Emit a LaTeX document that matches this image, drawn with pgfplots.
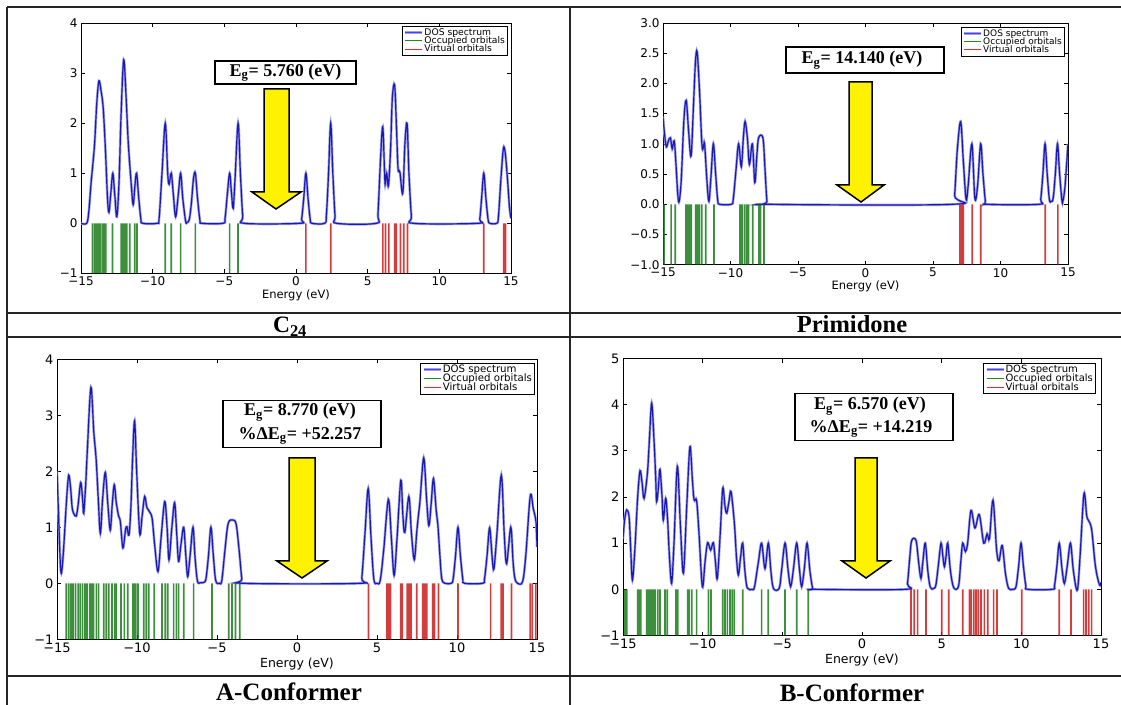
\documentclass[border=0pt]{standalone}
\usepackage{fontspec}
\setmainfont{Liberation Serif}
\newfontfamily\dejavu{DejaVu Sans}
\usepackage{pgfplots}
\pgfplotsset{compat=1.18}
\definecolor{doscol}{rgb}{0.1,0.1,0.72}
\definecolor{occcol}{rgb}{0.05,0.45,0.05}
\definecolor{virtcol}{rgb}{0.78,0.05,0.05}
\definecolor{legblue}{rgb}{0.25,0.25,1}
\definecolor{leggreen}{rgb}{0.1,0.55,0.1}
\definecolor{legred}{rgb}{0.95,0.15,0.15}
\newcommand{\fs}[1]{\fontsize{#1}{#1}\selectfont}

\pgfplotsset{
  dos/.style={
    scale only axis, anchor=south west,
    xmin=-15, xmax=15,
    xtick={-15,-10,-5,0,5,10,15},
    xticklabels={−15,−10,−5,0,5,10,15},
    tick align=inside, major tick length=4pt,
    axis line style={line width=0.9pt},
    every tick/.style={black, line width=0.7pt},
    xlabel={Energy (eV)},
    legend cell align=left,
    legend entries={DOS spectrum, Occupied orbitals, Virtual orbitals},
    legend style={at={(1,1)}, anchor=north east, draw=black, line width=0.8pt,
      fill=white, inner xsep=2pt, inner ysep=1.2pt, row sep=-1.5pt,
      nodes={inner sep=0.7pt}},
  },
  curve/.style={draw=doscol, line width=1.2pt, smooth, tension=0.55, mark=none,
    preaction={draw, doscol!40!white, line width=2.6pt},
    legend image code/.code={\draw[legblue, line width=1.1pt] (0pt,0pt) -- (17pt,0pt);}},
  occ/.style={ybar, bar shift=0pt, bar width=1.7pt, draw=none, fill=occcol, fill opacity=0.8,
    legend image code/.code={\draw[leggreen, line width=1.1pt] (0pt,0pt) -- (17pt,0pt);}},
  virt/.style={ybar, bar shift=0pt, bar width=1.7pt, draw=none, fill=virtcol, fill opacity=0.8,
    legend image code/.code={\draw[legred, line width=1.1pt] (0pt,0pt) -- (17pt,0pt);}},
}

\begin{document}
\begin{tikzpicture}[x=1pt,y=1pt]
\useasboundingbox (0,0) rectangle (1121,704);
\clip (0,0) rectangle (1121,704);

% table frame
\begin{scope}[line width=1.4pt, black!85]
\draw (7,697) -- (1121,697);
\draw (7,697) -- (7,-5);
\draw (570,697) -- (570,-5);
\draw (7,391) -- (1121,391);
\draw (7,367) -- (1121,367);
\draw (7,28) -- (1121,28);
\end{scope}

% captions
\node[font=\bfseries\fs{23.5}, anchor=base] at (290,371) {C\textsubscript{24}};
\node[font=\bfseries\fs{24.5}, anchor=base] at (852,371) {Primidone};
\node[font=\bfseries\fs{25}, anchor=base] at (289,4) {A-Conformer};
\node[font=\bfseries\fs{25}, anchor=base] at (852,3) {B-Conformer};

% ---------------- C24 ----------------
\begin{axis}[dos, at={(81pt,430.7pt)}, width=430pt, height=250pt,
  ymin=-1, ymax=4, ytick={-1,0,1,2,3,4}, yticklabels={−1,0,1,2,3,4},
  tick label style={font=\dejavu\fs{12}},
  xlabel style={font=\dejavu\fs{11.5}, at={(axis description cs:0.5,0)}, anchor=center, yshift=-22pt},
  legend style={xshift=-3pt, yshift=-2.7pt, font=\dejavu\fs{9.2}}]
\addplot[curve] coordinates {
(-15,0) (-14.6,0) (-14.45,0.25) (-14.3,0.8) (-14.2,1.1) (-14.05,1.6) (-13.9,2.4) (-13.75,2.85)
(-13.6,2.65) (-13.45,2.3) (-13.3,1.5) (-13.15,0.5) (-13.05,0.22) (-12.92,0.6) (-12.78,1.0)
(-12.64,0.55) (-12.5,0.13) (-12.35,0.8) (-12.2,2.2) (-12.02,3.27) (-11.85,2.5) (-11.7,1.6)
(-11.5,0.8) (-11.36,0.37) (-11.24,0.75) (-11.12,1.0) (-10.97,0.5) (-10.82,0.08) (-10.7,0)
(-9.7,0) (-9.55,0.1) (-9.35,1.0) (-9.12,2.0) (-8.95,1.0) (-8.85,0.78) (-8.7,1.0) (-8.55,0.55)
(-8.4,0.13) (-8.22,0.55) (-8.05,1.0) (-7.9,0.5) (-7.7,0.04) (-7.6,0.02) (-7.45,0.07) (-7.3,0.4)
(-7.15,0.9) (-7.02,1.0) (-6.87,0.5) (-6.7,0.06) (-6.55,0)
(-5.1,0) (-4.95,0.1) (-4.8,0.55) (-4.63,1.0) (-4.5,0.6) (-4.38,0.3) (-4.25,0.9) (-4.04,2.0)
(-3.88,1.0) (-3.72,0.15) (-3.6,0)
(0.27,0) (0.39,0.08) (0.54,0.5) (0.69,1) (0.84,0.5) (0.99,0.08) (1.11,0)
(2.0,0) (2.12,0.16) (2.27,1.0) (2.42,2.0) (2.57,1.0) (2.72,0.16) (2.84,0)
(5.6,0) (5.72,0.2) (5.9,1.3) (6.05,1.93) (6.17,1.1) (6.22,0.78) (6.33,1.0) (6.45,0.75)
(6.6,1.5) (6.72,2.5) (6.88,2.77) (7.0,2.0) (7.12,1.1) (7.25,1.02) (7.45,0.6) (7.6,1.6)
(7.75,2.0) (7.88,1.0) (8.05,0.15) (8.2,0)
(12.7,0) (12.82,0.08) (12.95,0.5) (13.1,1.0) (13.25,0.5) (13.4,0.08) (13.52,0)
(14.0,0) (14.12,0.12) (14.3,0.9) (14.47,1.5) (14.6,1.4) (14.75,0.9) (14.9,0.3) (15,0.1)};
\addplot[occ] coordinates {
(-14.2,-1) (-14.05,-1) (-13.93,-1) (-13.82,-1) (-13.68,-1) (-13.52,-1) (-13.41,-1) (-13.27,-1)
(-12.8,-1) (-12.2,-1) (-12.1,-1) (-12.0,-1) (-11.9,-1) (-11.8,-1) (-11.6,-1) (-11.25,-1)
(-11.1,-1) (-9.12,-1) (-8.7,-1) (-8.05,-1) (-7.02,-1) (-4.63,-1) (-4.04,-1)};
\addplot[virt] coordinates {
(0.69,-1) (2.43,-1) (6.06,-1) (6.25,-1) (6.48,-1) (6.88,-1) (7.0,-1) (7.29,-1) (7.52,-1)
(7.78,-1) (13.1,-1) (14.5,-1) (14.62,-1)};
\end{axis}

% ---------------- Primidone ----------------
\begin{axis}[dos, at={(663pt,439.3pt)}, width=405pt, height=241.6pt,
  ymin=-1, ymax=3, ytick={-1,-0.5,0,0.5,1,1.5,2,2.5,3},
  yticklabels={−1.0,−0.5,0.0,0.5,1.0,1.5,2.0,2.5,3.0},
  tick label style={font=\dejavu\fs{12}},
  xlabel style={font=\dejavu\fs{11.5}, at={(axis description cs:0.5,0)}, anchor=center, yshift=-22pt},
  legend style={xshift=-3pt, yshift=-4pt, font=\dejavu\fs{9}}]
\addplot[curve] coordinates {
(-15,1.45) (-14.88,1.15) (-14.75,0.95) (-14.6,1.05) (-14.45,1.1) (-14.32,0.92) (-14.17,1.05)
(-14.05,0.7) (-13.9,0.15) (-13.8,0.05) (-13.65,0.4) (-13.45,1.4) (-13.28,1.72) (-13.1,1.2)
(-12.92,0.8) (-12.75,1.6) (-12.6,2.35) (-12.47,2.52) (-12.3,1.9) (-12.12,1.0) (-12.02,0.93)
(-11.92,1.0) (-11.75,0.4) (-11.6,0.05) (-11.45,0.45) (-11.27,1.0) (-11.1,0.5) (-10.95,0.07)
(-10.8,0)
(-9.95,0) (-9.8,0.08) (-9.6,0.55) (-9.4,1.0) (-9.2,0.62) (-9.05,1.1) (-8.92,1.37) (-8.75,1.1)
(-8.6,0.66) (-8.38,1.0) (-8.2,0.36) (-8.05,0.8) (-7.92,1.1) (-7.6,1.1) (-7.45,0.6) (-7.3,0.05)
(-7.15,0)
(6.45,0) (6.6,0.15) (6.8,0.9) (7.05,1.37) (7.25,0.7) (7.45,0.08) (7.6,0.3) (7.88,1.0) (8.1,0.1)
(8.3,0.3) (8.53,1.0) (8.7,0.5) (8.88,0.05) (9.0,0)
(12.85,0) (12.98,0.08) (13.14,0.5) (13.3,1.0) (13.46,0.5) (13.62,0.08) (13.75,0.05) (13.9,0.1)
(14.06,0.5) (14.22,1.0) (14.38,0.5) (14.55,0.06) (14.62,0.05) (14.78,0.3) (15,1.0)};
\addplot[occ] coordinates {
(-14.92,-1) (-14.4,-1) (-14.09,-1) (-13.3,-1) (-13.17,-1) (-13.04,-1) (-12.91,-1) (-12.57,-1)
(-12.44,-1) (-12.31,-1) (-12.13,-1) (-11.84,-1) (-11.22,-1) (-9.3,-1) (-9.15,-1) (-8.97,-1)
(-8.8,-1) (-8.66,-1) (-8.35,-1) (-7.9,-1) (-7.77,-1) (-7.52,-1)};
\addplot[virt] coordinates {
(6.99,-1) (7.12,-1) (7.25,-1) (7.9,-1) (8.53,-1) (13.31,-1) (14.25,-1)};
\end{axis}

% ---------------- A-Conformer ----------------
\begin{axis}[dos, at={(57pt,64.7pt)}, width=480pt, height=280pt,
  ymin=-1, ymax=4, ytick={-1,0,1,2,3,4}, yticklabels={−1,0,1,2,3,4},
  tick label style={font=\dejavu\fs{13}},
  xlabel style={font=\dejavu\fs{12.5}, at={(axis description cs:0.5,0)}, anchor=center, yshift=-25pt},
  legend style={xshift=-2pt, yshift=-3.4pt, font=\dejavu\fs{10.2}}]
\addplot[curve] coordinates {
(-15,2.0) (-14.9,1.2) (-14.8,0.4) (-14.73,0.18) (-14.64,0.4) (-14.54,0.83) (-14.4,1.5)
(-14.27,1.93) (-14.15,1.7) (-14.06,1.37) (-13.96,1.25) (-13.8,1.2) (-13.68,1.4) (-13.52,1.8)
(-13.4,1.5) (-13.33,1.25) (-13.2,1.8) (-13.1,2.4) (-12.88,3.5) (-12.7,2.7) (-12.55,2.2)
(-12.42,1.5) (-12.29,0.89) (-12.15,1.5) (-11.98,1.98) (-11.82,1.4) (-11.67,0.95) (-11.55,1.4)
(-11.42,1.76) (-11.3,1.45) (-11.15,1.2) (-11.04,1.1) (-10.88,0.63) (-10.72,0.95) (-10.63,1.01)
(-10.5,0.86) (-10.38,1.37) (-10.28,2.2) (-10.15,2.9) (-10.02,2.0) (-9.83,0.89) (-9.68,1.2)
(-9.52,1.55) (-9.38,1.35) (-9.2,1.27) (-9.05,1.15) (-8.9,0.7) (-8.69,0.21) (-8.5,0.8)
(-8.27,1.46) (-8.12,1.0) (-8.0,0.42) (-7.82,1.0) (-7.65,1.44) (-7.52,0.9) (-7.4,0.39)
(-7.25,0.7) (-7.08,1.0) (-6.95,0.5) (-6.83,0.12) (-6.68,0.5) (-6.5,1.0) (-6.37,0.45)
(-6.22,0.04) (-6.04,0.01) (-5.8,0.02) (-5.68,0.1) (-5.53,0.5) (-5.38,1.0) (-5.23,0.5)
(-5.08,0.05) (-4.85,0) (-4.7,0.05) (-4.5,0.6) (-4.3,1.07) (-4.0,1.13) (-3.8,1.05) (-3.62,0.6)
(-3.45,0.08) (-3.35,0)
(3.9,0) (4.05,0.1) (4.25,0.9) (4.45,1.69) (4.62,0.85) (4.8,0.08) (5.0,0) (5.2,0.05) (5.42,0.6)
(5.71,1.5) (5.9,0.8) (6.07,0.14) (6.25,0.8) (6.49,1.84) (6.62,1.2) (6.74,0.91) (6.99,1.55)
(7.15,0.9) (7.33,0.42) (7.48,0.9) (7.58,1.19) (7.69,1.48) (7.92,2.24) (8.1,1.5) (8.24,1.03)
(8.38,1.4) (8.53,1.87) (8.7,1.3) (8.8,1.06) (8.93,0.5) (9.05,0.08) (9.26,0)
(9.64,0) (9.76,0.08) (9.91,0.5) (10.06,1.0) (10.21,0.5) (10.36,0.08) (10.48,0)
(11.6,0) (11.72,0.08) (11.88,0.5) (12.04,0.99) (12.2,0.45) (12.31,0.26) (12.5,0.9) (12.77,1.93)
(12.95,0.9) (13.1,0.35) (13.36,1.0) (13.5,0.4) (13.61,0.1) (13.78,0) (14.1,0.03) (14.3,0.5)
(14.58,1.56) (14.77,1.33) (14.94,1.09) (15,0.65)};
\addplot[occ] coordinates {
(-14.42,-1) (-14.27,-1) (-14.13,-1) (-14.0,-1) (-13.85,-1) (-13.67,-1) (-13.54,-1) (-13.4,-1)
(-13.25,-1) (-13.13,-1) (-12.96,-1) (-12.88,-1) (-12.79,-1) (-12.71,-1) (-12.54,-1) (-12.4,-1)
(-12.08,-1) (-11.92,-1) (-11.77,-1) (-11.56,-1) (-11.4,-1) (-11.29,-1) (-11.0,-1) (-10.79,-1)
(-10.58,-1) (-10.25,-1) (-10.17,-1) (-10.08,-1) (-9.94,-1) (-9.58,-1) (-9.42,-1) (-9.27,-1)
(-8.92,-1) (-8.44,-1) (-8.23,-1) (-8.08,-1) (-7.71,-1) (-7.54,-1) (-7.4,-1) (-7.08,-1)
(-6.46,-1) (-5.31,-1) (-4.27,-1) (-4.06,-1) (-3.85,-1) (-3.58,-1)};
\addplot[virt] coordinates {
(4.47,-1) (5.63,-1) (5.74,-1) (5.84,-1) (6.49,-1) (6.58,-1) (6.89,-1) (7.0,-1) (7.12,-1)
(7.48,-1) (7.86,-1) (7.98,-1) (8.11,-1) (8.49,-1) (8.59,-1) (8.84,-1) (10.06,-1) (12.1,-1)
(12.77,-1) (12.88,-1) (13.4,-1) (14.58,-1) (14.71,-1) (14.93,-1)};
\end{axis}

% ---------------- B-Conformer ----------------
\begin{axis}[dos, at={(623pt,68.5pt)}, width=478pt, height=277pt,
  ymin=-1, ymax=5, ytick={-1,0,1,2,3,4,5}, yticklabels={−1,0,1,2,3,4,5},
  tick label style={font=\dejavu\fs{13}},
  xlabel style={font=\dejavu\fs{12.5}, at={(axis description cs:0.5,0)}, anchor=center, yshift=-25pt},
  legend style={xshift=-5pt, yshift=-4.2pt, font=\dejavu\fs{10}}]
\addplot[curve] coordinates {
(-15,1.1) (-14.9,1.5) (-14.77,1.72) (-14.62,1.57) (-14.52,0.9) (-14.41,0.2) (-14.25,0.9)
(-14.08,2.0) (-13.93,2.57) (-13.8,2.3) (-13.68,1.97) (-13.47,2.51) (-13.35,3.2) (-13.2,4.03)
(-13.05,3.2) (-12.95,2.44) (-12.89,1.9) (-12.78,2.2) (-12.68,2.6) (-12.55,2.0) (-12.47,1.5)
(-12.32,1.97) (-12.2,1.5) (-12.1,0.8) (-11.95,0.13) (-11.8,1.0) (-11.59,2.66) (-11.4,1.4)
(-11.21,0.35) (-11.0,1.8) (-10.8,3.09) (-10.65,2.4) (-10.54,1.94) (-10.38,1.92) (-10.23,1.21)
(-10.02,0.06) (-9.85,0.6) (-9.69,1.01) (-9.5,0.85) (-9.33,1.01) (-9.2,0.6) (-9.08,0.24)
(-8.9,1.2) (-8.74,2.19) (-8.6,1.8) (-8.49,1.65) (-8.35,1.9) (-8.22,2.12) (-8.01,1.43)
(-7.88,0.7) (-7.76,0.31) (-7.62,0.7) (-7.49,1.0) (-7.35,0.4) (-7.2,0.03) (-6.9,0) (-6.75,0.05)
(-6.5,0.6) (-6.3,1.0) (-6.09,0.45) (-5.88,1.0) (-5.72,0.4) (-5.56,0.02) (-5.2,0.02) (-5.05,0.4)
(-4.83,1.0) (-4.65,0.45) (-4.48,0.06) (-4.3,0.45) (-4.1,1.0) (-3.93,0.45) (-3.79,0.06)
(-3.62,0.45) (-3.45,1.0) (-3.27,0.4) (-3.1,0.02) (-3.0,0)
(2.7,0) (2.85,0.12) (3.0,0.7) (3.12,1.06) (3.39,1.06) (3.55,0.6) (3.7,0.24) (3.82,0.6)
(3.97,1.0) (4.13,0.4) (4.29,0.04) (4.5,0.02) (4.64,0.1) (4.8,0.55) (4.96,1.0) (5.08,0.7)
(5.17,0.49) (5.27,0.7) (5.38,1.0) (5.55,0.4) (5.75,0.04) (6.05,0.06) (6.2,0.6) (6.32,1.0)
(6.49,0.82) (6.63,1.0) (6.84,1.71) (7.09,1.33) (7.36,1.62) (7.64,1.0) (7.85,1.2) (8.0,1.1)
(8.22,1.93) (8.45,0.85) (8.6,0.62) (8.8,0.95) (9.0,0.35) (9.2,0.02) (9.45,0)
(9.55,0) (9.68,0.08) (9.83,0.5) (9.98,1.0) (10.13,0.5) (10.28,0.08) (10.4,0)
(11.95,0) (12.08,0.08) (12.23,0.5) (12.38,1.0) (12.55,0.45) (12.7,0.13) (12.88,0.5) (13.08,1.0)
(13.25,0.45) (13.43,0.04) (13.55,0.05) (13.7,0.8) (13.93,2.07) (14.1,1.6) (14.2,1.5)
(14.41,1.3) (14.65,0.5) (14.9,0.1) (15,0.15)};
\addplot[occ] coordinates {
(-14.87,-1) (-14.77,-1) (-14.08,-1) (-14.0,-1) (-13.89,-1) (-13.51,-1) (-13.41,-1) (-13.31,-1)
(-13.2,-1) (-13.1,-1) (-12.99,-1) (-12.82,-1) (-12.68,-1) (-12.36,-1) (-12.22,-1) (-11.67,-1)
(-11.57,-1) (-10.94,-1) (-10.86,-1) (-10.69,-1) (-10.38,-1) (-9.64,-1) (-9.48,-1) (-8.74,-1)
(-8.6,-1) (-8.45,-1) (-8.28,-1) (-8.14,-1) (-8.01,-1) (-7.49,-1) (-6.3,-1) (-5.88,-1)
(-4.83,-1) (-4.1,-1) (-3.37,-1)};
\addplot[virt] coordinates {
(3.08,-1) (3.28,-1) (3.49,-1) (4.02,-1) (5.0,-1) (5.44,-1) (6.32,-1) (6.74,-1) (6.84,-1)
(7.01,-1) (7.15,-1) (7.3,-1) (7.47,-1) (7.68,-1) (7.89,-1) (8.26,-1) (8.47,-1) (10.02,-1)
(12.38,-1) (13.12,-1) (13.91,-1) (14.06,-1) (14.23,-1) (14.41,-1)};
\end{axis}

% energy-gap boxes
\begin{scope}[line width=1.2pt]
\filldraw[fill=white, draw=black] (215,620) rectangle (356,643);
\node[font=\bfseries\fs{18}] at (285.5,631.5) {E\textsubscript{g}= 5.760 (eV)};
\filldraw[fill=white, draw=black] (786,631) rectangle (944,657);
\node[font=\bfseries\fs{18}] at (862,644) {E\textsubscript{g}= 14.140 (eV)};
\filldraw[fill=white, draw=black] (223,256.7) rectangle (381,303.3);
\node[font=\bfseries\fs{18}] at (300,292) {E\textsubscript{g}= 8.770 (eV)};
\node[font=\bfseries\fs{18}] at (300,268) {\%ΔE\textsubscript{g}= +52.257};
\filldraw[fill=white, draw=black] (795,263.3) rectangle (953,310.7);
\node[font=\bfseries\fs{18}] at (870,298) {E\textsubscript{g}= 6.570 (eV)};
\node[font=\bfseries\fs{18}] at (871,275) {\%ΔE\textsubscript{g}= +14.219};
\end{scope}

% yellow arrows
\begin{scope}[fill=yellow, draw=black, line width=1.5pt, line join=miter]
\filldraw (264,615) -- (289,615) -- (289,512) -- (301,512) -- (276,495) -- (252,512) -- (264,512) -- cycle;
\filldraw (849,622) -- (872,622) -- (872,519) -- (884,519) -- (861,502) -- (837,519) -- (849,519) -- cycle;
\filldraw (289,246) -- (315,246) -- (315,143) -- (327,143) -- (302,126) -- (277,143) -- (289,143) -- cycle;
\filldraw (855,246) -- (877,246) -- (877,143) -- (890,143) -- (866,126) -- (842,143) -- (855,143) -- cycle;
\end{scope}
\end{tikzpicture}
\end{document}
